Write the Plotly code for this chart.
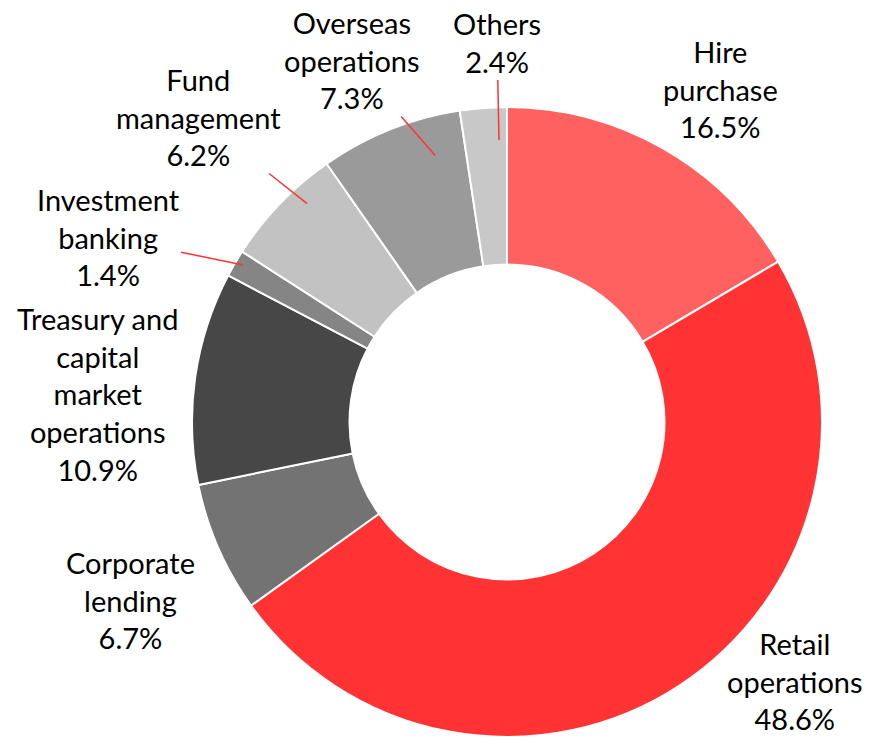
import math
import plotly.graph_objects as go

# ---- data ----
segments = ["Hire purchase", "Retail operations", "Corporate lending",
            "Treasury and capital market operations", "Investment banking",
            "Fund management", "Overseas operations", "Others"]
shares = [16.5, 48.6, 6.7, 10.9, 1.4, 6.2, 7.3, 2.4]
label_lines = ["Hire<br>purchase", "Retail<br>operations", "Corporate<br>lending",
               "Treasury and<br>capital<br>market<br>operations", "Investment<br>banking",
               "Fund<br>management", "Overseas<br>operations", "Others"]
colors = ["#FF6161", "#FF3333", "#737373", "#474747", "#858585",
          "#C2C2C2", "#9A9A9A", "#C8C8C8"]

# ---- layout config ----
W, H = 870, 737
R = 315
CX, CY = 507, H - R
# label text centres (pixels from chart centre)
label_offset = {
    "Hire purchase": (213, -333),
    "Retail operations": (288, 259),
    "Corporate lending": (-377, 178),
    "Treasury and capital market operations": (-410, -28),
    "Investment banking": (-399, -185),
    "Fund management": (-309, -305),
    "Overseas operations": (-155, -362),
    "Others": (-10, -380),
}
# leader-line end: (angle tweak in degrees, radius in px)
leader = {
    "Investment banking": (0.5, 307),
    "Fund management": (3.6, 296),
    "Overseas operations": (6.7, 276),
    "Others": (2.7, 282),
}
FONT = "Lato"
FS = 29

fig = go.Figure(go.Pie(
    labels=segments, values=shares, sort=False, direction="clockwise",
    rotation=0, hole=0.5, textinfo="none", hoverinfo="label+percent",
    marker=dict(colors=colors, line=dict(color="white", width=2)),
    domain=dict(x=[(CX - R) / W, (CX + R) / W], y=[0, 2 * R / H]),
    showlegend=False,
))

total = sum(shares)
cum = 0.0
annotations = []
for name, val, txt in zip(segments, shares, label_lines):
    mid = (cum + val / 2) / total * 360
    cum += val
    dx, dy = label_offset[name]
    lx, ly = CX + dx, CY + dy
    text = f"{txt}<br>{val:.1f}%"
    if name in leader:
        tweak, hr = leader[name]
        a = math.radians(mid + tweak)
        hx = CX + hr * math.sin(a)
        hy = CY - hr * math.cos(a)
        annotations.append(dict(
            x=hx / W, y=1 - hy / H, xref="paper", yref="paper",
            ax=lx - hx, ay=ly - hy, text=text, showarrow=True,
            arrowhead=0, arrowwidth=1.5, arrowcolor="#FF3333", standoff=0,
            font=dict(family=FONT, size=FS, color="black"), align="center"))
    else:
        annotations.append(dict(
            x=lx / W, y=1 - ly / H, xref="paper", yref="paper",
            text=text, showarrow=False, xanchor="center", yanchor="middle",
            font=dict(family=FONT, size=FS, color="black"), align="center"))

fig.update_layout(
    width=W, height=H, margin=dict(l=0, r=0, t=0, b=0),
    paper_bgcolor="white", plot_bgcolor="white",
    annotations=annotations,
)
fig.write_html("out.html", config={"displayModeBar": False},
               post_script="document.body.style.margin='0';document.body.style.overflow='hidden';")
